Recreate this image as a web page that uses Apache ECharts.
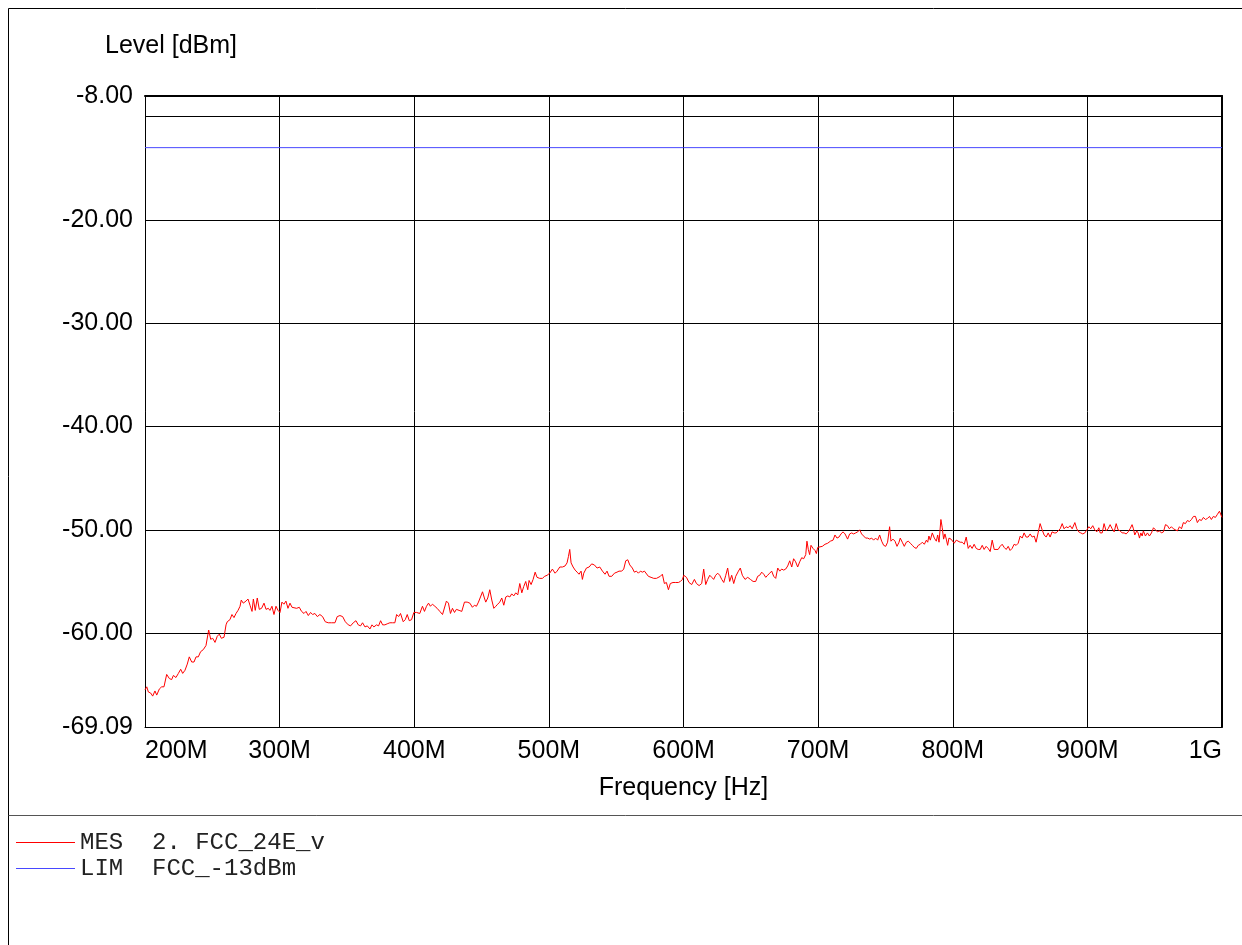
<!DOCTYPE html>
<html>
<head>
<meta charset="utf-8">
<title>Level vs Frequency</title>
<script src="https://cdn.jsdelivr.net/npm/echarts@6/dist/echarts.min.js"></script>
<style>
  html, body { margin: 0; padding: 0; background: #fff; }
  #chart { width: 1242px; height: 945px; }
</style>
</head>
<body>
<div id="chart"></div>
<script>
const freqA = [200, 201.3, 202.5, 204.2, 205.7, 207.4, 208.7, 210.7, 212.4, 214.1, 216.1, 218.1, 219.8, 221.1, 223, 224.8, 226.5, 228, 229.7, 231.4, 232.9, 234.7, 236.4, 237.9, 239.6, 241.3, 243.3, 245.3, 247.3, 248.8, 250.3, 252, 253.7, 255.2, 256.7, 258.7, 260.2, 261.1, 263.1, 264.6, 266.1, 267.6, 269.1, 270.6, 271.5, 273, 275, 276.5, 278, 279.5, 280.5, 281.9, 283.4, 284.9, 286.6, 288.4, 289.9, 291.6, 292.8, 294.3, 295.8, 297.3, 298.8, 300.3, 301.7, 303.2, 304.7, 306.2, 307.7, 309.2, 310.6, 312.6, 314.6, 316.3, 318.1, 319.6, 321.3, 323, 324.5, 326.2, 328, 329.9, 331.9, 333.9, 336.1, 338.6, 341.1, 342.8, 344.8, 346.8, 348.8, 351, 352.7, 354.7, 356.7, 358.4, 360.1, 361.6, 363.4, 365.1, 367.1, 368.6, 370, 372, 373.5, 375, 376.5, 378.2, 379.9, 381.9, 383.9, 385.6, 386.9, 388.4, 389.8, 391.8, 393.3, 394.8, 396.3, 398];
const levelA = [-65.5, -65.2, -65.7, -65.8, -66.1, -65.6, -66.0, -65.4, -65.2, -65.2, -64.0, -64.4, -64.5, -64.1, -64.3, -63.9, -63.5, -63.9, -63.6, -63.0, -62.3, -62.8, -62.8, -62.3, -62.3, -61.8, -61.6, -61.2, -59.7, -60.6, -60.5, -60.9, -60.3, -60.1, -60.5, -60.4, -59.2, -58.9, -58.7, -58.2, -58.5, -58.1, -57.8, -57.4, -56.8, -57.1, -56.9, -56.7, -57.3, -57.9, -56.7, -57.8, -56.6, -57.7, -57.6, -57.1, -57.7, -57.6, -57.8, -57.4, -58.2, -57.4, -57.8, -58.0, -57.0, -57.2, -56.9, -57.6, -57.1, -57.5, -57.4, -57.6, -57.5, -57.9, -58.1, -57.9, -58.3, -58.0, -58.2, -58.1, -58.4, -58.2, -58.4, -58.9, -59.0, -59.0, -59.0, -58.4, -58.3, -58.4, -58.9, -59.2, -59.3, -59.0, -58.8, -59.2, -59.3, -59.0, -59.4, -59.3, -59.6, -59.2, -59.4, -59.2, -59.3, -58.8, -59.2, -59.2, -59.1, -59.0, -59.0, -59.0, -58.2, -58.4, -58.1, -58.9, -58.7, -58.2, -58.8, -58.7];

const freqB = [399.7, 401.7, 404.1, 406.1, 407.6, 409.1, 410.6, 412, 413.5, 415.3, 417, 419, 421, 422.4, 423.9, 425.4, 426.9, 428.4, 429.9, 431.3, 433.3, 435.3, 437.3, 439.3, 441.3, 443.2, 444.7, 446.2, 447.7, 449.2, 450.7, 452.1, 453.1, 454.6, 456.1, 457.6, 459.1, 460.6, 462, 463.5, 465, 466.5, 468, 469.5, 471, 472.4, 473.9, 475.4, 476.9, 478.4, 479.9, 481.3, 482.8, 484.3, 485.3, 486.8, 488.3, 489.8, 491.2, 493.2, 495.2, 496.9, 498.7, 500.6, 502.6, 504.6, 506.1, 508.1, 510.1, 512, 513.5, 514.5, 515.5, 516.5, 518, 519.5, 521, 522.4, 523.9, 524.9, 525.9, 527.9, 529.9, 531.8, 533.8, 535.8, 537.8, 539.8, 541.7, 543.2, 544.7, 546.7, 548.7, 550.6, 552.1, 554.1, 555.6, 557.1, 558.6, 560.1, 562, 563.5, 565, 566.5, 568, 569.5, 571, 572.4, 573.9, 575.9, 577.9, 579.9, 581.3, 582.8, 584.3, 585.8, 587.3, 588.8, 590.2, 592.2, 594.2, 596.2, 597.7];
const levelB = [-58.0, -58.0, -58.1, -57.4, -57.9, -57.4, -57.1, -57.4, -57.2, -57.4, -57.6, -57.9, -58.2, -58.1, -56.9, -57.1, -58.1, -57.6, -58.0, -57.7, -57.8, -57.9, -57.0, -57.0, -57.1, -57.5, -57.3, -57.4, -57.0, -56.5, -56.0, -56.6, -57.0, -56.6, -55.8, -56.8, -57.6, -57.4, -57.2, -57.0, -56.6, -57.3, -56.5, -56.4, -56.5, -56.2, -56.4, -56.1, -56.3, -55.2, -56.1, -55.5, -55.0, -55.8, -54.9, -55.3, -54.8, -54.1, -54.6, -54.7, -54.7, -54.5, -54.4, -54.2, -53.8, -54.2, -54.0, -53.6, -53.6, -53.5, -53.2, -52.6, -51.9, -53.2, -53.6, -53.9, -54.1, -54.3, -54.0, -54.8, -54.2, -53.7, -53.6, -53.3, -53.4, -53.7, -53.6, -54.0, -54.3, -54.0, -54.5, -54.5, -54.2, -54.1, -54.0, -54.0, -53.8, -53.0, -52.9, -53.4, -53.7, -54.1, -54.0, -54.2, -54.0, -54.1, -54.0, -54.0, -54.5, -54.6, -54.7, -54.7, -54.8, -54.5, -54.3, -55.2, -55.1, -55.8, -55.2, -55.1, -55.1, -55.1, -55.0];

const freqC = [599.2, 600.2, 602.2, 604.1, 606.1, 608.1, 609.6, 611.6, 613.5, 615, 616.5, 618, 619.5, 621, 622.4, 623.9, 625.4, 626.9, 628.4, 629.9, 631.4, 632.8, 634.3, 635.8, 637.3, 638.8, 640.8, 642.2, 643.7, 645.7, 647.7, 649.7, 651.7, 653.6, 655.1, 656.6, 658.1, 659.6, 661.1, 662.5, 664, 665.5, 667, 668.5, 670, 671.5, 672.9, 674.4, 675.9, 677.4, 678.9, 680.4, 681.8, 683.3, 684.8, 686.3, 687.8, 689.3, 690.8, 691.7, 692.7, 693.7, 694.7, 696.2, 697.7, 698.7, 699.7, 701.1, 703.1, 705.1, 707.1, 709.1, 711.1, 712.5, 714, 715.5, 717, 718.5, 720, 721.9, 723.4, 724.9, 726.4, 727.9, 729.4, 730.9, 732.3, 733.8, 735.3, 736.8, 738.3, 739.8, 741.2, 742.7, 744.2, 745.7, 747.2, 748.7, 750.2, 751.6, 753.1, 754.1, 755.6, 757.1, 758.6, 760.1, 761, 762.5, 764, 765.5, 767, 768.5, 770, 771.4, 772.9, 774.4, 775.9, 777.4, 778.9, 780.4, 781.4, 782.3, 783.3, 784.8, 786.3, 787.8, 788.8, 789.8, 791.2, 792.2, 793.2, 794.2, 795.2, 796.2, 797.2, 798.7];
const levelC = [-54.8, -54.4, -54.6, -55.1, -55.3, -54.8, -55.2, -55.4, -55.2, -53.8, -55.3, -54.8, -54.4, -54.6, -54.8, -54.4, -54.2, -54.4, -54.8, -55.1, -54.4, -53.7, -55.0, -54.4, -55.2, -54.5, -54.0, -53.7, -54.4, -54.8, -54.6, -54.8, -55.0, -55.0, -54.5, -54.4, -54.1, -54.3, -54.6, -54.4, -54.2, -54.0, -54.5, -54.7, -53.7, -54.0, -53.8, -53.9, -53.8, -53.5, -53.0, -53.6, -52.8, -53.1, -53.6, -53.1, -52.7, -52.8, -52.4, -51.1, -51.9, -52.4, -51.5, -51.8, -52.0, -52.3, -51.7, -51.7, -51.6, -51.4, -51.3, -51.1, -51.0, -50.5, -50.8, -50.7, -50.4, -50.2, -50.4, -50.9, -50.4, -50.3, -50.4, -50.3, -50.2, -50.0, -50.4, -50.6, -50.8, -50.8, -50.9, -50.8, -51.0, -50.8, -51.0, -50.5, -51.1, -51.5, -51.6, -51.2, -49.7, -51.1, -50.9, -51.1, -51.6, -51.2, -50.8, -51.2, -51.6, -51.2, -51.1, -51.3, -51.5, -51.7, -51.8, -51.5, -51.4, -51.2, -51.4, -51.0, -51.2, -50.6, -51.0, -50.3, -50.8, -51.1, -50.5, -51.2, -49.0, -49.8, -50.9, -50.4, -50.9, -51.5, -50.8, -50.9];

const freqD = [800.1, 801.1, 802.6, 804, 805.5, 807, 808.5, 810, 811.5, 812.9, 814.4, 815.9, 817.4, 818.9, 820.4, 821.9, 823.3, 824.8, 826.3, 827.8, 829.3, 830.8, 832.2, 833.7, 835.2, 836.7, 838.2, 839.7, 841.2, 842.6, 844.1, 845.6, 847.1, 848.6, 850.1, 851.6, 853, 854.5, 856, 857.5, 859, 860.5, 861.9, 863.4, 864.9, 866.4, 867.9, 869.4, 870.9, 872.3, 873.8, 875.3, 876.8, 878.3, 879.8, 881.3, 882.7, 884.2, 885.7, 887.2, 888.7, 890.7, 892.1, 893.6, 895.1, 896.6, 898.1, 899.6, 901.1, 902.5, 904, 905.5, 907, 908.5, 909.5, 911, 912.4, 913.9, 915.4, 916.9, 918.4, 919.9, 921.4, 922.8, 924.3, 925.8, 927.3, 928.8, 930.3, 931.7, 933.2, 934.2, 935.2, 936.7, 937.7, 938.7, 939.7, 940.7, 941.6, 943.1, 944.6, 946.1, 947.6, 949.1, 950.6, 952, 953.5, 955, 956.5, 958, 959.5, 960.9, 962.4, 963.9, 965.4, 966.9, 968.4, 969.9, 971.3, 972.8, 974.3, 975.8, 977.3, 978.8, 980.3, 981.7, 983.2, 984.7, 986.2, 987.7, 989.2, 990.7, 992.1, 993.6, 995.1, 996.6, 998.1, 1000];
const levelD = [-51.0, -51.3, -51.0, -51.1, -51.2, -51.2, -51.4, -50.7, -51.8, -51.5, -51.8, -51.4, -51.8, -51.9, -51.9, -51.5, -51.9, -51.6, -51.8, -52.1, -51.0, -51.9, -51.9, -51.9, -51.6, -51.4, -51.7, -51.9, -51.6, -52.0, -51.8, -51.4, -51.5, -51.3, -50.6, -50.8, -50.3, -50.7, -50.7, -50.4, -50.7, -50.6, -51.2, -50.3, -49.4, -50.0, -50.5, -50.7, -50.3, -50.7, -50.2, -50.3, -50.3, -50.1, -49.9, -49.4, -49.9, -49.7, -49.8, -49.6, -49.9, -49.3, -49.9, -50.2, -50.3, -50.4, -50.3, -50.0, -49.7, -49.9, -49.6, -50.0, -50.2, -49.8, -50.3, -50.3, -49.4, -50.1, -49.9, -49.5, -49.9, -50.2, -49.4, -50.0, -50.1, -50.3, -50.3, -50.4, -50.2, -49.9, -49.5, -49.9, -50.5, -50.1, -50.3, -50.8, -50.3, -50.6, -50.1, -50.6, -50.3, -50.6, -50.3, -49.8, -50.0, -50.2, -50.1, -50.3, -50.2, -49.5, -49.6, -49.9, -49.7, -49.9, -50.0, -50.1, -49.7, -49.9, -49.3, -49.4, -49.1, -49.2, -49.0, -48.7, -48.7, -49.3, -49.0, -49.1, -48.8, -49.0, -48.9, -48.7, -49.0, -48.7, -48.8, -48.5, -48.2, -48.8];

// limit line (LIM)
const limitFreq = [200, 1000];
const limitLevel = [-13, -13];

// axis labels
const yLabelValues = [-8, -20, -30, -40, -50, -60, -69.09];
const yGridValues = [-10, -20, -30, -40, -50, -60];

const mesFreq = freqA.concat(freqB, freqC, freqD);
const mesLevel = levelA.concat(levelB, levelC, levelD);

const chart = echarts.init(document.getElementById('chart'));

const sansFont = 'Liberation Sans, Arial, sans-serif';
const monoFont = 'Liberation Mono, Courier New, monospace';

const option = {
  animation: false,
  backgroundColor: '#fff',
  grid: { left: 145, right: 20, top: 96, bottom: 218 },
  legend: {
    orient: 'vertical',
    left: 16,
    top: 830,
    padding: 0,
    icon: 'rect',
    itemWidth: 59,
    itemHeight: 1,
    itemGap: 1,
    data: ['MES  2. FCC_24E_v', 'LIM  FCC_-13dBm'],
    textStyle: { fontFamily: monoFont, fontSize: 24, color: '#222', lineHeight: 25 }
  },
  graphic: [
    { type: 'line', shape: { x1: 8.5, y1: 8.5, x2: 1242, y2: 8.5 }, style: { stroke: '#000', lineWidth: 1 } },
    { type: 'line', shape: { x1: 8.5, y1: 8.5, x2: 8.5, y2: 945 }, style: { stroke: '#000', lineWidth: 1 } },
    { type: 'line', shape: { x1: 8.5, y1: 815.5, x2: 1242, y2: 815.5 }, style: { stroke: '#555', lineWidth: 1 } },
    {
      type: 'text', left: 105, top: 34,
      style: { text: 'Level [dBm]', font: '25px ' + sansFont, fill: '#000' }
    }
  ],
  xAxis: [
    {
      type: 'value',
      min: 200,
      max: 1000,
      interval: 100,
      name: 'Frequency [Hz]',
      nameLocation: 'middle',
      nameGap: 49,
      nameTextStyle: { fontFamily: sansFont, fontSize: 25, color: '#000' },
      axisLine: { show: true, lineStyle: { color: '#000', width: 1 } },
      axisTick: { show: false },
      axisLabel: {
        fontFamily: sansFont, fontSize: 25, color: '#000', margin: 12,
        alignMinLabel: 'left', alignMaxLabel: 'right',
        formatter: v => v === 1000 ? '1G' : v + 'M'
      },
      splitLine: { show: true, lineStyle: { color: '#000', width: 1 } }
    },
    {
      type: 'value', position: 'top', min: 200, max: 1000,
      axisLine: { show: true, lineStyle: { color: '#000', width: 2 } },
      axisTick: { show: false }, axisLabel: { show: false }, splitLine: { show: false }
    }
  ],
  yAxis: [
    {
      type: 'value',
      min: -69.09,
      max: -8,
      axisLine: { show: true, lineStyle: { color: '#000', width: 1 } },
      axisTick: { show: false, customValues: yGridValues },
      axisLabel: {
        customValues: yLabelValues,
        fontFamily: sansFont, fontSize: 25, color: '#000', margin: 12,
        formatter: v => v.toFixed(2)
      },
      splitLine: { show: true, lineStyle: { color: '#000', width: 1 } }
    },
    {
      type: 'value', position: 'right', min: -69.09, max: -8,
      axisLine: { show: true, lineStyle: { color: '#000', width: 2 } },
      axisTick: { show: false }, axisLabel: { show: false }, splitLine: { show: false }
    }
  ],
  series: [
    {
      name: 'MES  2. FCC_24E_v',
      type: 'line',
      symbol: 'none',
      color: '#ff0000',
      lineStyle: { width: 1, color: '#ff0000' },
      data: mesFreq.map((f, i) => [f, mesLevel[i]])
    },
    {
      name: 'LIM  FCC_-13dBm',
      type: 'line',
      symbol: 'none',
      color: '#4848ff',
      lineStyle: { width: 1, color: '#4848ff' },
      data: limitFreq.map((f, i) => [f, limitLevel[i]])
    }
  ]
};

chart.setOption(option);
</script>
</body>
</html>
